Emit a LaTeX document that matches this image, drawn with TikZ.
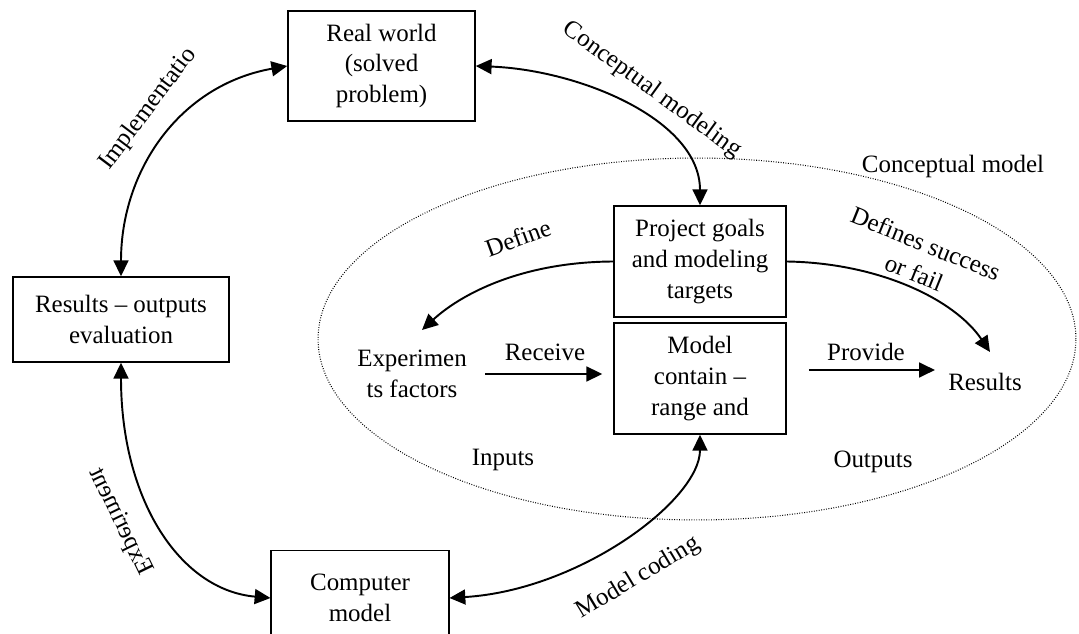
\documentclass[tikz,border=0pt]{standalone}
\usepackage{fontspec}
\setmainfont{Liberation Serif}
\usetikzlibrary{arrows.meta}
\begin{document}
\begin{tikzpicture}[x=0.02cm,y=-0.02cm,
  lbl/.style={font=\fontsize{14.2}{17.6}\selectfont, inner sep=0pt, align=center},
  box/.style={lbl, draw, line width=0.9pt},
  arr/.style={-{Triangle[length=9pt,width=8.5pt]}, line width=1.1pt},
  biarr/.style={{Triangle[length=9pt,width=8.5pt]}-{Triangle[length=9pt,width=8.5pt]}, line width=1.1pt},
  dots/.style={line width=0.6pt, dash pattern=on 0.5pt off 0.9pt}]
\useasboundingbox (0,0) rectangle (1079,634);
\clip (0,0) rectangle (1079,634);
% conceptual model region
\draw[dots] (697,339) ellipse [x radius=7.58cm, y radius=3.62cm];
% boxes
\node[box, minimum width=3.74cm, minimum height=2.2cm] (rw) at (381.5,66) {Real world\\(solved\\problem)};
\node[box, minimum width=4.32cm, minimum height=1.7cm] (res) at (121,319.5) {Results – outputs\\evaluation};
\node[box, minimum width=3.44cm, minimum height=2.22cm] (pg) at (700,261.5) {Project goals\\and modeling\\targets};
\node[box, minimum width=3.44cm, minimum height=2.22cm] (mc) at (700,378.5) {Model\\contain –\\range and};
\node[box, minimum width=3.55cm, minimum height=1.9cm] (cm) at (360,598) {Computer\\model};
% plain texts
\node[lbl] (ef) at (412,374) {Experimen\\ts factors};
\node[lbl] (rs) at (985,382) {Results};
\node[lbl] (lrec) at (545,352) {Receive};
\node[lbl] (lprov) at (866,352) {Provide};
\node[lbl] (lin) at (503,460) {Inputs};
\node[lbl] (lout) at (873,462) {Outputs};
\node[lbl] (lcm) at (953,167) {Conceptual model};
\node[lbl, rotate=20] (ldef) at (518,238) {Define};
\node[lbl, rotate=-22] (ldss) at (920,258) {Defines success\\or fail};
\node[lbl, rotate=-36] (lcmod) at (652,90) {Conceptual modeling};
\node[lbl, rotate=53] (limp) at (148,109) {Implementatio};
\node[lbl, rotate=116, yscale=-1] (lexp) at (120,522) {Experiment};
\node[lbl, rotate=31] (lmcod) at (638,578) {Model coding};
% connectors
\draw[biarr] (res.north) .. controls (121,170) and (180,85) .. (rw.west);
\draw[biarr] (rw.east) .. controls (580,70) and (700,120) .. (pg.north);
\draw[biarr] (res.south) .. controls (121,500) and (180,590) .. (cm.west);
\draw[biarr] (cm.east) .. controls (580,590) and (700,500) .. (mc.south);
\coordinate (defEnd) at (422,330);
\draw[arr] (pg.west) .. controls (520,262) and (460,295) .. (defEnd);
\coordinate (dssEnd) at (990,352);
\draw[arr] (pg.east) .. controls (880,263) and (955,300) .. (dssEnd);
\draw[arr, shorten <=0.36cm, shorten >=0.22cm] (ef.east) -- (ef.east -| mc.west);
\path ([yshift=0.17cm]mc.east) coordinate (provS);
\draw[arr, shorten <=0.44cm, shorten >=0.26cm] (provS) -- (provS -| rs.west);
\end{tikzpicture}
\end{document}
